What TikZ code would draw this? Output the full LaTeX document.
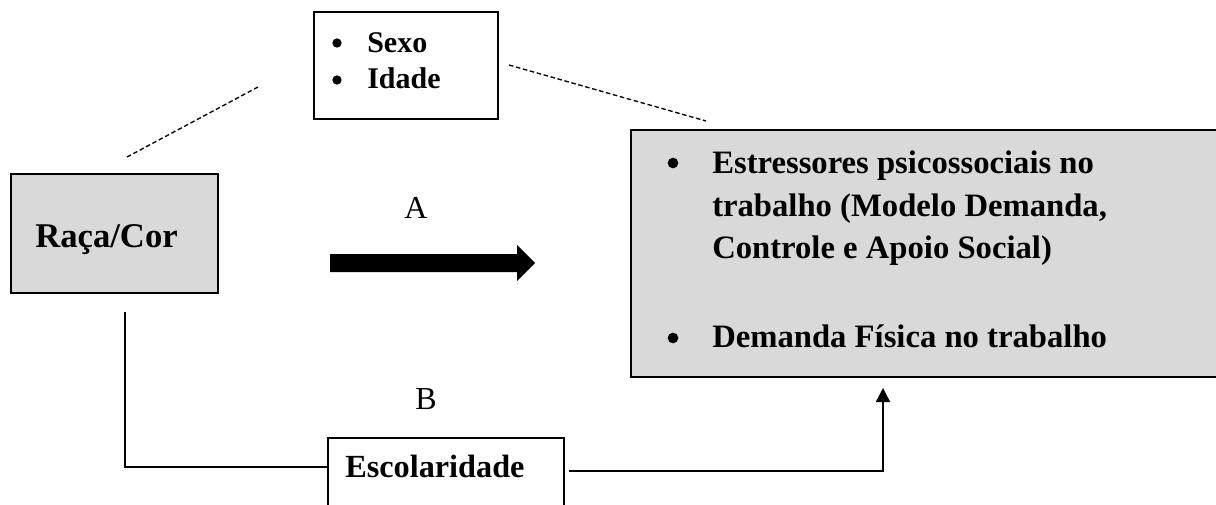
\documentclass[tikz,border=0pt]{standalone}
\usepackage{fontspec}
\setmainfont{Liberation Serif}
\usetikzlibrary{arrows.meta}
\definecolor{boxgray}{HTML}{D9D9D9}
\tikzset{
  box/.style={draw=black, line width=1.2pt, inner sep=0pt, anchor=north west},
  grbox/.style={box, fill=boxgray},
  wtbox/.style={box, fill=white},
  lbl/.style={anchor=base west, inner sep=0pt},
  bul/.style={anchor=base, inner sep=0pt},
  dotb/.style={circle, fill=black, inner sep=0pt, minimum size=#1},
  dashln/.style={line width=1pt, dash pattern=on 3.4pt off 2pt},
  conn/.style={line width=1.1pt},
}
\begin{document}
\begin{tikzpicture}[x=0.75pt,y=-0.75pt]
\useasboundingbox (0,0) rectangle (1216,504);

% boxes
\node[wtbox, minimum width=138pt, minimum height=80.25pt] (sexo) at (313,11) {};
\node[grbox, minimum width=155.25pt, minimum height=89.25pt] (raca) at (10,173) {};
\node[grbox, minimum width=439.5pt, minimum height=185.25pt] (outc) at (630,129) {};
\node[wtbox, minimum width=177pt, minimum height=60pt] (esc) at (327,437) {};

% texts: Sexo / Idade
\node[dotb=7pt] (bs1) at (337,43) {};
\node[dotb=7pt] (bs2) at (337,80) {};
\node[lbl, font=\fontsize{22.5pt}{27pt}\selectfont\bfseries] (tsexo) at (367,52) {Sexo};
\node[lbl, font=\fontsize{22.5pt}{27pt}\selectfont\bfseries] (tidade) at (367,88) {Idade};

% Raça/Cor
\node[lbl, font=\fontsize{26pt}{31pt}\selectfont\bfseries] (traca) at (35,247) {Raça/Cor};

% outcome box text
\node[dotb=8pt] (bo1) at (673,163) {};
\node[dotb=8pt] (bo2) at (673,338) {};
\node[lbl, font=\fontsize{24.5pt}{29pt}\selectfont\bfseries] (to1) at (712,173) {Estressores psicossociais no};
\node[lbl, font=\fontsize{24.5pt}{29pt}\selectfont\bfseries] (to2) at (712,216) {trabalho (Modelo Demanda,};
\node[lbl, font=\fontsize{24.5pt}{29pt}\selectfont\bfseries] (to3) at (712,258) {Controle e Apoio Social)};
\node[lbl, font=\fontsize{24.5pt}{29pt}\selectfont\bfseries] (to4) at (712,347) {Demanda Física no trabalho};

% Escolaridade
\node[lbl, font=\fontsize{24.2pt}{29pt}\selectfont\bfseries] (tesc) at (345,477) {Escolaridade};

% labels A, B
\node[bul, font=\fontsize{24pt}{29pt}\selectfont] (la) at (416,218) {A};
\node[bul, font=\fontsize{24pt}{29pt}\selectfont] (lb) at (426,409) {B};

% thick arrow A
\fill[black] (330,254) -- (517,254) -- (517,245) -- (535,263) -- (517,281) -- (517,272) -- (330,272) -- cycle;

% dashed lines
\coordinate (dl1) at (127,157);
\coordinate (dl2) at (258,87);
\coordinate (dr1) at (509,65);
\coordinate (dr2) at (706,121);
\draw[dashln] (dl1) -- (dl2);
\draw[dashln] (dr1) -- (dr2);

% path B
\coordinate (pb1) at (125,312);
\coordinate (pb2) at (125,467);
\draw[conn] (pb1) -- (pb2) -- (pb2 -| esc.west);
\coordinate (pc1) at (569,471);
\coordinate (pc2) at (883,471);
\coordinate (pc3) at (883,388);
\draw[conn, -{Triangle[width=10.5pt,length=10.5pt]}] (pc1) -- (pc2) -- (pc3);
\end{tikzpicture}
\end{document}
